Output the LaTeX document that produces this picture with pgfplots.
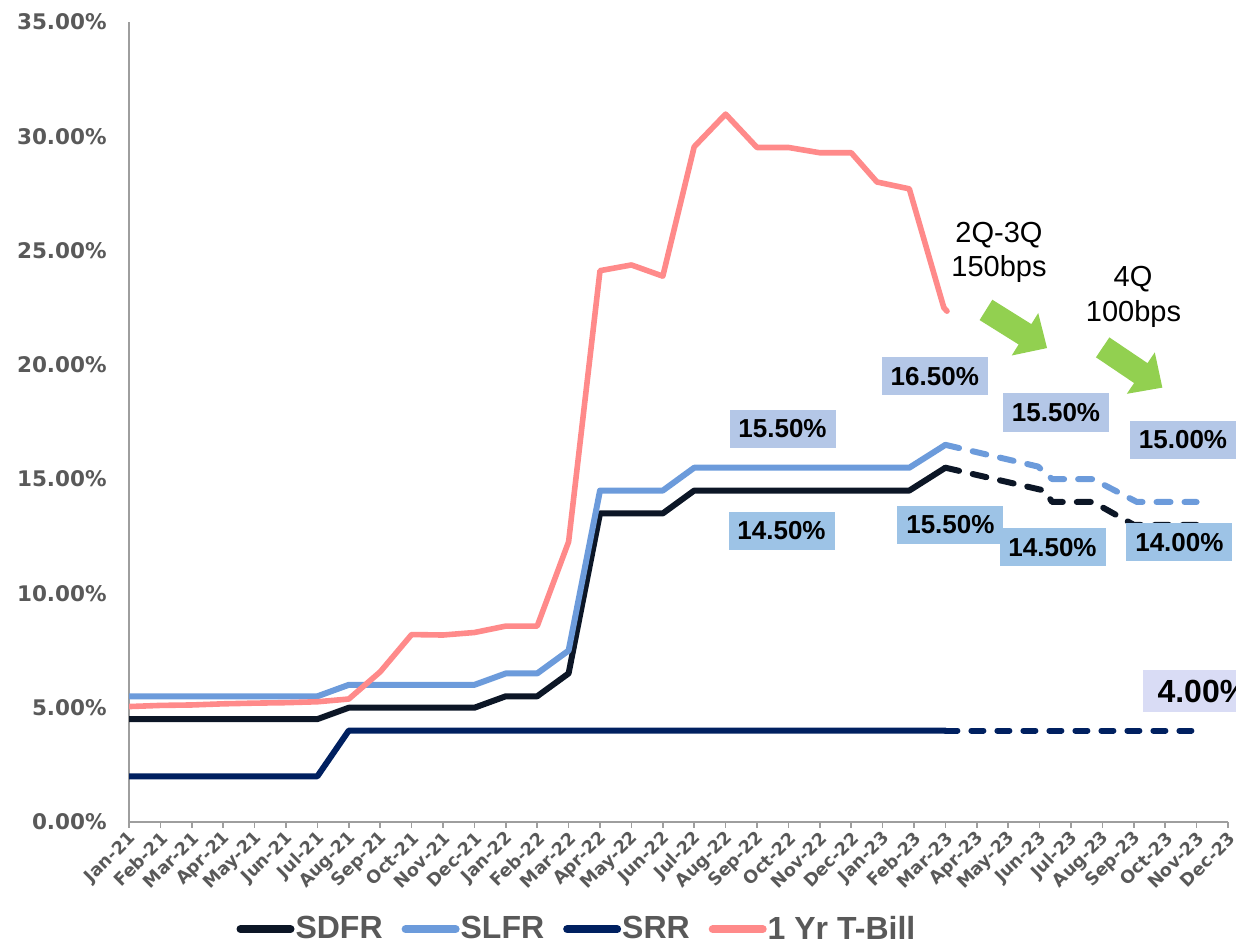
\documentclass[border=0pt]{standalone}
\usepackage{pgfplots}
\pgfplotsset{compat=1.18}
\usepackage{fontspec}
\setmainfont{Liberation Sans}
\newfontfamily\dejavu{DejaVu Sans}
\definecolor{sdfr}{HTML}{0C1626}
\definecolor{slfr}{HTML}{6C9BDB}
\definecolor{srr}{HTML}{002060}
\definecolor{tbill}{HTML}{FF8A8A}
\definecolor{txtgray}{HTML}{595959}
\definecolor{boxA}{HTML}{B4C7E7}
\definecolor{boxB}{HTML}{9DC3E6}
\definecolor{boxC}{HTML}{D9DCF5}
\definecolor{arrowgreen}{HTML}{92D050}
\tikzset{lbl/.style={fill=#1, minimum width=53pt, minimum height=19.25pt, inner sep=0pt,
  font=\bfseries\fontsize{13pt}{15pt}\selectfont, text=black}}
\begin{document}
\begin{tikzpicture}[x=1pt,y=1pt]
\path[use as bounding box] (0,0) rectangle (618,473);
\begin{axis}[
  at={(64.5pt,62pt)}, anchor=south west,
  scale only axis, width=549.5pt, height=400pt,
  xmin=0, xmax=35, ymin=0, ymax=35,
  axis x line=bottom, axis y line=left,
  axis line style={-, draw=black!38, line width=0.8pt},
  xtick={0,...,35},
  xticklabels={Jan-21,Feb-21,Mar-21,Apr-21,May-21,Jun-21,Jul-21,Aug-21,Sep-21,Oct-21,Nov-21,Dec-21,
    Jan-22,Feb-22,Mar-22,Apr-22,May-22,Jun-22,Jul-22,Aug-22,Sep-22,Oct-22,Nov-22,Dec-22,
    Jan-23,Feb-23,Mar-23,Apr-23,May-23,Jun-23,Jul-23,Aug-23,Sep-23,Oct-23,Nov-23,Dec-23},
  ytick={0,5,...,35},
  /pgf/number format/assume math mode=true,
  yticklabel={\pgfmathprintnumber[fixed,fixed zerofill,precision=2]{\tick}\%},
  tick align=outside, major tick length=3pt,
  xtick style={draw=black!38, line width=0.8pt},
  ytick style={draw=none},
  yticklabel style={anchor=east, inner sep=0pt, xshift=-8pt, text=txtgray,
    font=\dejavu\bfseries\fontsize{10.75pt}{12pt}\selectfont},
  xticklabel style={rotate=45, anchor=east, inner sep=0pt, text=txtgray, yshift=-4pt, xshift=-1pt,
    font=\dejavu\bfseries\fontsize{8.8pt}{10pt}\selectfont},
  legend style={at={(axis description cs:0.092,-0.134)}, anchor=west, draw=none, fill=none,
    legend columns=4, font=\bfseries\fontsize{16pt}{19pt}\selectfont, text=txtgray,
    /tikz/every even column/.append style={column sep=9pt}, nodes={inner sep=0.5pt}},
  legend cell align=left,
  legend image code/.code={\draw[#1, line width=4pt, line cap=round, solid] (0pt,0pt) -- (25pt,0pt);},
  every axis plot/.append style={line join=round, line cap=round},
]
% SDFR
\addplot[sdfr, line width=3pt] coordinates {
 (0,4.5)(1,4.5)(2,4.5)(3,4.5)(4,4.5)(5,4.5)(6,4.5)(7,5)(8,5)(9,5)(10,5)(11,5)
 (12,5.5)(13,5.5)(14,6.5)(15,13.5)(16,13.5)(17,13.5)(18,14.5)(19,14.5)(20,14.5)(21,14.5)
 (22,14.5)(23,14.5)(23.82,14.5)(24.85,14.5)(26,15.5)};
\addlegendentry{SDFR}
% SLFR
\addplot[slfr, line width=3pt] coordinates {
 (0,5.5)(1,5.5)(2,5.5)(3,5.5)(4,5.5)(5,5.5)(6,5.5)(7,6)(8,6)(9,6)(10,6)(11,6)
 (12,6.5)(13,6.5)(14,7.5)(15,14.5)(16,14.5)(17,14.5)(18,15.5)(19,15.5)(20,15.5)(21,15.5)
 (22,15.5)(23,15.5)(23.82,15.5)(24.85,15.5)(26,16.5)};
\addlegendentry{SLFR}
% SRR
\addplot[srr, line width=3pt] coordinates {
 (0,2)(1,2)(2,2)(3,2)(4,2)(5,2)(6,2)(7,4)(8,4)(9,4)(10,4)(11,4)(12,4)(13,4)(14,4)
 (15,4)(16,4)(17,4)(18,4)(19,4)(20,4)(21,4)(22,4)(23,4)(23.82,4)(24.85,4)(26,4)};
\addlegendentry{SRR}
% 1 Yr T-Bill
\addplot[tbill, line width=2.8pt] coordinates {
 (0,5.05)(1,5.1)(2,5.12)(3,5.17)(4,5.2)(5,5.22)(6,5.26)(7,5.38)(8,6.57)(9,8.2)(10,8.18)(11,8.29)
 (12,8.57)(13,8.57)(14,12.26)(15,24.12)(16,24.37)(17,23.88)(18,29.54)(19,30.97)(20,29.51)
 (21,29.51)(22,29.28)(23,29.28)(23.82,28.0)(24.85,27.7)(25.95,22.5)(26.05,22.35)};
\addlegendentry{1 Yr T-Bill}
% projections (dashed)
\addplot[forget plot, sdfr, line width=3pt, dash pattern=on 7pt off 7pt] coordinates {
 (26,15.5)(29.15,14.5)(29.4,14.0)(30.7,14.0)(32,13.0)(34,13.0)};
\addplot[forget plot, slfr, line width=3pt, dash pattern=on 7pt off 7pt] coordinates {
 (26,16.5)(28.95,15.55)(29.4,15.0)(30.7,15.0)(32.1,14.0)(34,14.0)};
\addplot[forget plot, srr, line width=3pt, dash pattern=on 6pt off 7pt] coordinates {
 (26,4)(27,4)(28,4)(29,4)(30,4)(31,4)(32,4)(33,4)(34,4)};
\end{axis}
% annotations
\node[lbl=boxA] at (467.4,284.9) {16.50\%};
\node[lbl=boxA] at (391.25,258.5) {15.50\%};
\node[lbl=boxA] at (528,266.8) {15.50\%};
\node[lbl=boxA] at (591.5,253) {15.00\%};
\node[lbl=boxB] at (390.75,207.6) {14.50\%};
\node[lbl=boxB] at (475.2,210.5) {15.50\%};
\node[lbl=boxB] at (526.25,199.4) {14.50\%};
\node[lbl=boxB] at (589.7,201.9) {14.00\%};
\node[fill=boxC, anchor=west, minimum height=21pt, minimum width=55pt, inner sep=0pt, align=left,
  font=\bfseries\fontsize{16pt}{18pt}\selectfont] at (571.5,127.5) {\hspace{4.5pt}4.00\%};
\node[anchor=base, font=\fontsize{14.5pt}{17pt}\selectfont] at (499.5,351.5) {2Q-3Q};
\node[anchor=base, font=\fontsize{14.5pt}{17pt}\selectfont] at (499.5,334.5) {150bps};
\node[anchor=base, font=\fontsize{14.5pt}{17pt}\selectfont] at (566.5,329.5) {4Q};
\node[anchor=base, font=\fontsize{14.5pt}{17pt}\selectfont] at (566.75,312) {100bps};
\fill[arrowgreen, shift={(508.25,308.5)}, rotate=-32]
  (-18,-6) -- (5,-6) -- (5,-12.5) -- (18,0) -- (5,12.5) -- (5,6) -- (-18,6) -- cycle;
\fill[arrowgreen, shift={(566.25,289.25)}, rotate=-34]
  (-18,-6) -- (5,-6) -- (5,-12.5) -- (18,0) -- (5,12.5) -- (5,6) -- (-18,6) -- cycle;
\end{tikzpicture}
\end{document}
